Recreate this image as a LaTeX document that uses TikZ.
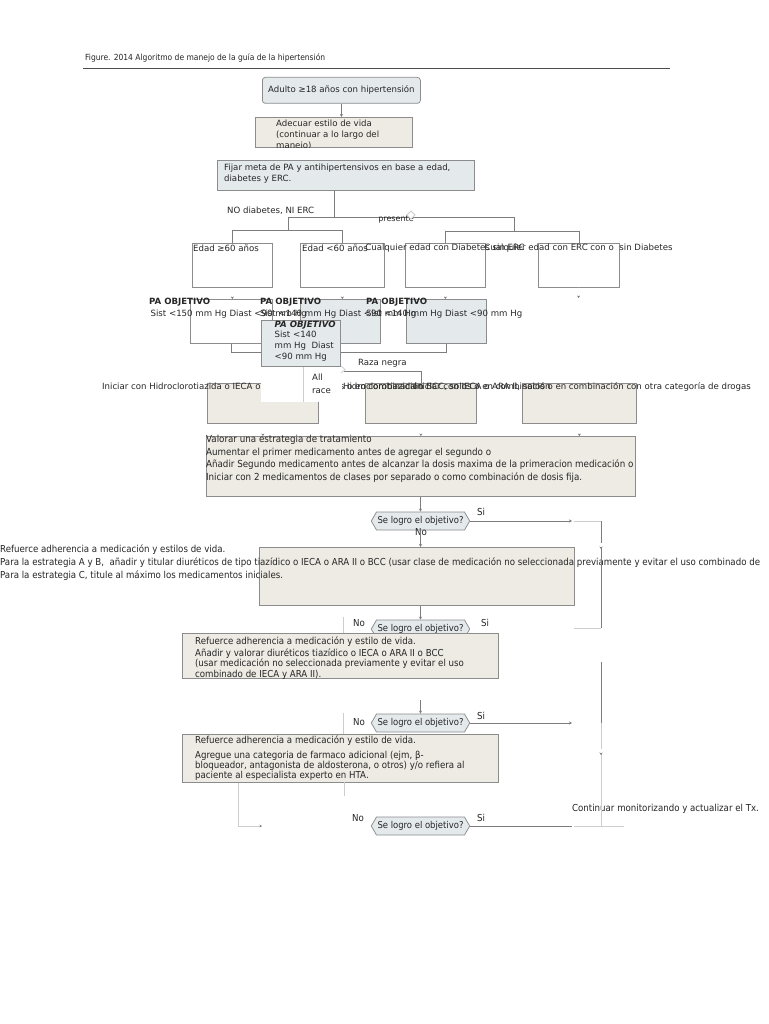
\documentclass[tikz,border=0pt]{standalone}
\usepackage{fontspec}
\setmainfont{DejaVu Sans}
\newfontfamily\condfont{DejaVu Sans}[FakeStretch=0.9]
\usetikzlibrary{arrows.meta}
\usetikzlibrary{shapes.symbols}
\definecolor{boxblue}{RGB}{228,233,236}
\definecolor{boxbeige}{RGB}{238,235,228}
\definecolor{boxline}{RGB}{140,140,140}
\definecolor{linedark}{RGB}{125,125,125}
\definecolor{linelight}{RGB}{205,205,205}
\tikzset{every picture/.style={line width=0.75pt}}
\tikzset{
  txt/.style={inner sep=0.75pt, text=black!85, font=\fontsize{8.6}{11}\selectfont},
  ctxt/.style={inner sep=0.75pt, text=black!85, font=\condfont\fontsize{9.6}{13}\selectfont},
  plainbox/.style={draw=boxline, fill=white, inner sep=0pt, anchor=north west},
  bluebox/.style={plainbox, fill=boxblue},
  beigebox/.style={plainbox, fill=boxbeige},
  decision/.style={signal, signal to=east and west, signal pointer angle=120, draw=boxline, fill=boxblue, minimum width=95, minimum height=18, inner sep=1pt, text=black!85, font=\condfont\fontsize{9.4}{10}\selectfont},
  link/.style={draw=linedark},
  faint/.style={draw=linelight},
  arrowlink/.style={link, -{Stealth[length=3pt,width=3pt]}},
  tiponly/.style={draw=white, -{Stealth[length=2.5pt,width=3pt,color=linedark]}}
}

\begin{document}
\begin{tikzpicture}[x=1pt,y=1pt,yscale=-1,xscale=1]
\useasboundingbox (0,0) rectangle (768,1024);
\fill[white] (0,0) rectangle (768,1024);

% Title
\node[ctxt, anchor=west, font=\condfont\fontsize{8.4}{10}\selectfont] (title) at (84,58) {Figure. 2014 Algoritmo de manejo de la guía de la hipertensión};
\coordinate (ruleL) at (83,68);
\coordinate (ruleR) at (670,68);
\draw[draw=black!70] (ruleL) -- (ruleR);

% Top boxes
\node[bluebox, rounded corners=3pt, minimum width=158, minimum height=26, text=black!85, font=\fontsize{8.6}{11}\selectfont] (adulto) at (262,77) {Adulto ≥18 años con hipertensión};
\node[beigebox, minimum width=157, minimum height=30] (adecuar) at (255,117) {};
\draw[arrowlink] (adulto.south) -- (adulto.south |- adecuar.north);
\begin{scope}
\clip (adecuar.north west) rectangle (adecuar.south east);
\node[txt, anchor=north west, align=left] (adecuarT) at (275,118.5) {Adecuar estilo de vida\\(continuar a lo largo del\\manejo)};
\end{scope}
\node[bluebox, minimum width=257, minimum height=30] (fijar) at (217,160) {};
\node[txt, anchor=north west, align=left] (fijarT) at (223,162.5) {Fijar meta de PA y antihipertensivos en base a edad,\\diabetes y ERC.};

% Tree under the goal box
\coordinate (j0) at (334,217);
\coordinate (jl) at (288,217);
\coordinate (jr) at (514,217);
\coordinate (jl2) at (288,230);
\coordinate (jr2) at (514,231);
\draw[link] (fijar.south -| j0) -- (j0);
\draw[link] (jl) -- (jr);
\draw[link] (jl) -- (jl2);
\draw[link] (jr) -- (jr2);
\node[txt, anchor=west] (nodiab) at (226,211) {NO diabetes, NI ERC};
\node[txt, font=\fontsize{8}{10}\selectfont] (presente) at (396,219.5) {presente};
\draw[faint, fill=white] (411,211) -- (415,215) -- (411,219) -- (407,215) -- cycle;

% Row 1
\node[plainbox, minimum width=80, minimum height=44] (edad60) at (192,243) {};
\node[plainbox, minimum width=84, minimum height=44] (edadmenos) at (300,243) {};
\node[plainbox, minimum width=80, minimum height=44] (diab) at (405,243) {};
\node[plainbox, minimum width=81, minimum height=44] (erc) at (538,243) {};
\draw[link] (jl2) -| (edad60.north);
\draw[link] (jl2) -| (edadmenos.north);
\draw[link] (jr2) -| (diab.north);
\draw[link] (jr2) -| (erc.north);
\node[txt, anchor=west] (edad60T) at (192,248) {Edad ≥60 años};
\node[txt, anchor=west] (edadmenosT) at (301,248) {Edad <60 años};
\node[txt] (diabT) at (445,248) {Cualquier edad con Diabetes sin ERC};
\node[txt] (ercT) at (578.5,248) {Cualquier edad con ERC con o\ \ sin Diabetes};

% Row 2
\node[plainbox, minimum width=82, minimum height=44] (obj60) at (190,299) {};
\node[bluebox, minimum width=80, minimum height=44] (objmenos) at (300,299) {};
\node[bluebox, minimum width=80, minimum height=44] (objdiab) at (406,299) {};
\coordinate (ercend) at (578.5,298);
\draw[tiponly] (edad60.south) -- (edad60.south |- obj60.north);
\draw[tiponly] (edadmenos.south) -- (edadmenos.south |- objmenos.north);
\draw[tiponly] (diab.south) -- (diab.south |- objdiab.north);
\draw[tiponly] (erc.south) -- (ercend);
\node[txt, anchor=north west, align=left, font=\fontsize{8.6}{12}\selectfont] (lbl60) at (148,296.5) {\textbf{PA OBJETIVO}\\\hspace*{1.5pt}Sist <150 mm Hg Diast <90 mm Hg};
\node[txt, anchor=north west, align=left, font=\fontsize{8.6}{12}\selectfont] (lblmenos) at (259,296.5) {\textbf{PA OBJETIVO}\\Sist <140 mm Hg Diast <90 mm Hg};
\node[txt, anchor=north west, align=left, font=\fontsize{8.6}{12}\selectfont] (lbldiab) at (365,296.5) {\textbf{PA OBJETIVO}\\Sist <140 mm Hg Diast <90 mm Hg};
\coordinate (jrow2) at (300,352);
\draw[link] (obj60.south) |- (jrow2);
\draw[link] (objdiab.south) |- (jrow2);

% Row 3
\node[beigebox, minimum width=111, minimum height=40] (iniI) at (207,383) {};
\node[beigebox, minimum width=111, minimum height=40] (iniJ) at (365,383) {};
\node[beigebox, minimum width=114, minimum height=40] (iniK) at (522,383) {};
\node[txt, anchor=west] (iniIT) at (101,387) {Iniciar con Hidroclorotiazida o IECA o ARA II o BCC, solos o en combinación};
\node[txt, anchor=west] (iniJT) at (342,387) {Hidroclorotiazida o BCC, solos o en combinación};
\node[txt, anchor=east] (iniKT) at (752,387) {Iniciar con IECA o ARA II, solos o en combinación con otra categoría de drogas};

% Popup goal box, race split
\node[bluebox, minimum width=79, minimum height=46] (objall) at (261,320) {};
\node[txt, anchor=north west, align=left, font=\fontsize{8.6}{10.7}\selectfont] (objallT) at (273.5,319.5) {\textbf{\textit{PA OBJETIVO}}\\Sist <140\\mm Hg\ \ Diast\\<90 mm Hg};
\fill[white] (261,366.8) rectangle (342,402);
\coordinate (allend) at (303,402);
\draw[faint] (objall.south -| allend) -- (allend);
\node[txt, anchor=north west, align=left, font=\fontsize{8.6}{13}\selectfont] (allrace) at (311,373) {All\\race};
\draw[faint] (341,366) -- (345,369.5) -- (341,373);
\coordinate (razastart) at (344,371);
\draw[link] (razastart) -| (iniJ.north);
\node[txt, anchor=west] (raza) at (357,363) {Raza negra};

% Strategy box
\node[beigebox, minimum width=429, minimum height=60] (plan) at (206,436) {};
\draw[tiponly] (iniI.south) -- (iniI.south |- plan.north);
\draw[tiponly] (iniJ.south) -- (iniJ.south |- plan.north);
\draw[tiponly] (iniK.south) -- (iniK.south |- plan.north);
\node[ctxt, anchor=north west, align=left, font=\condfont\fontsize{9.7}{12.4}\selectfont] (planT) at (205,434.5) {Valorar una estrategia de tratamiento\\Aumentar el primer medicamento antes de agregar el segundo o\\Añadir Segundo medicamento antes de alcanzar la dosis maxima de la primeracion medicación o\\Iniciar con 2 medicamentos de clases por separado o como combinación de dosis fija.};

% Decision 1 and step 2
\node[decision] (dec1) at (420.5,521) {Se logro el objetivo?};
\draw[arrowlink] (plan.south -| dec1) -- (dec1.north);
\node[ctxt, anchor=west] (si1) at (476,512) {Si};
\node[ctxt] (no1) at (421,532) {No};
\node[beigebox, minimum width=315, minimum height=58] (ref1) at (259,547) {};
\draw[arrowlink] (dec1.south) -- (dec1.south |- ref1.north);
\node[ctxt, anchor=north west, align=left, font=\condfont\fontsize{9.6}{13}\selectfont] (ref1T) at (-1,544) {Refuerce adherencia a medicación y estilos de vida.\\Para la estrategia A y B,\ \ añadir y titular diuréticos de tipo tiazídico o IECA o ARA II o BCC (usar clase de medicación no seleccionada previamente y evitar el uso combinado de\\Para la estrategia C, titule al máximo los medicamentos iniciales.};

% Decision 2 and step 3
\node[decision] (dec2) at (420.5,629) {Se logro el objetivo?};
\draw[arrowlink] (ref1.south -| dec2) -- (dec2.north);
\coordinate (nob2a) at (343,617);
\coordinate (nob2b) at (343,633);
\draw[faint] (nob2a) -- (nob2b);
\node[ctxt, anchor=west] (no2) at (352,623) {No};
\node[ctxt, anchor=west] (si2) at (480,623) {Si};
\node[beigebox, minimum width=316, minimum height=45] (ref2) at (182,633) {};
\begin{scope}
\clip (ref2.north west) rectangle (ref2.south east);
\node[ctxt, anchor=north west, align=left, font=\condfont\fontsize{9.6}{10.4}\selectfont] (ref2T) at (194,635.5) {Refuerce adherencia a medicación y estilo de vida.\\[1.5pt]Añadir y valorar diuréticos tiazídico o IECA o ARA II o BCC\\(usar medicación no seleccionada previamente y evitar el uso\\combinado de IECA y ARA II).};
\end{scope}

% Decision 3 and step 4
\coordinate (ref2out) at (420.5,700);
\node[decision] (dec3) at (420.5,723) {Se logro el objetivo?};
\draw[arrowlink] (ref2out) -- (dec3.north);
\coordinate (nob3a) at (343,713);
\coordinate (nob3b) at (343,734);
\draw[faint] (nob3a) -- (nob3b);
\node[ctxt, anchor=west] (no3) at (352,722) {No};
\node[ctxt, anchor=west] (si3) at (476,716) {Si};
\node[beigebox, minimum width=316, minimum height=48] (ref3) at (182,734) {};
\node[ctxt, anchor=north west, align=left, font=\condfont\fontsize{9.6}{10}\selectfont] (ref3T) at (194,735) {Refuerce adherencia a medicación y estilo de vida.\\[4.5pt]Agregue una categoria de farmaco adicional (ejm, β-\\bloqueador, antagonista de aldosterona, o otros) y/o refiera al\\paciente al especialista experto en HTA.};
\coordinate (loopX) at (238,0);
\coordinate (loopEnd) at (262,826);
\draw[faint, -{Stealth[length=2.5pt,width=2.5pt,color=linedark]}] (ref3.south -| loopX) |- (loopEnd);
\coordinate (nob4a) at (344,782);
\coordinate (nob4b) at (344,796);
\draw[faint] (nob4a) -- (nob4b);

% Decision 4
\node[decision] (dec4) at (420.5,826) {Se logro el objetivo?};
\node[ctxt, anchor=west] (no4) at (351,818) {No};
\node[ctxt, anchor=west] (si4) at (476,818) {Si};
\node[ctxt, anchor=west, font=\condfont\fontsize{9.6}{10}\selectfont] (continuar) at (571,809) {Continuar monitorizando y actualizar el Tx.};

% Yes branch on the right
\coordinate (si1end) at (572,521);
\coordinate (si3end) at (572,723);
\coordinate (si4end) at (572,826);
\coordinate (rA) at (574,521);
\coordinate (rB) at (601,521);
\coordinate (rC) at (601,628);
\coordinate (rD) at (574,628);
\coordinate (rE) at (601,662);
\coordinate (rF) at (601,723);
\coordinate (rG) at (601,826);
\coordinate (rH) at (574,826);
\coordinate (rI) at (624,826);
\coordinate (tk1a) at (601,543);
\coordinate (tk1b) at (601,549);
\coordinate (tk2a) at (601,749);
\coordinate (tk2b) at (601,755);
\draw[arrowlink] (dec1.east) -- (si1end);
\draw[faint] (rA) -- (rB);
\draw[link] (rB) -- (rC);
\draw[faint] (rD) -- (rC);
\draw[link] (rE) -- (rF);
\draw[arrowlink] (dec3.east) -- (si3end);
\draw[faint] (rF) -- (rG);
\draw[link] (dec4.east) -- (si4end);
\draw[faint] (rH) -- (rI);
\draw[tiponly] (tk1a) -- (tk1b);
\draw[tiponly] (tk2a) -- (tk2b);

\end{tikzpicture}
\end{document}
